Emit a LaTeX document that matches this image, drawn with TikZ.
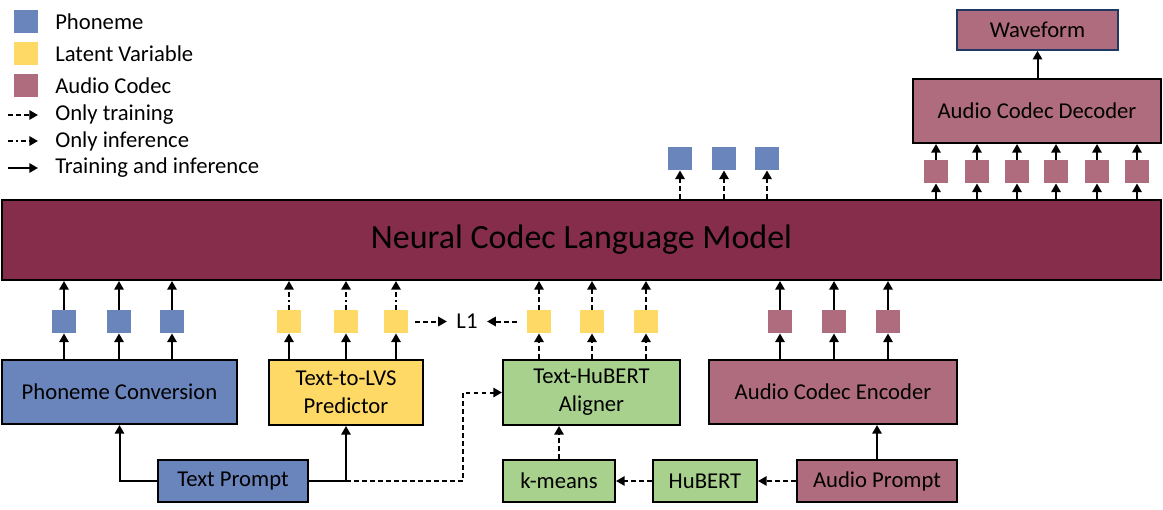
\documentclass[tikz,border=0pt]{standalone}
\usepackage{fontspec}
\setmainfont{Carlito}
\usetikzlibrary{arrows.meta}
\definecolor{cblue}{HTML}{6A84BC}
\definecolor{cyellow}{HTML}{FFD966}
\definecolor{cgreen}{HTML}{A9D18E}
\definecolor{cpink}{HTML}{B06C7F}
\definecolor{cmain}{HTML}{862D4B}
\definecolor{cnavy}{HTML}{203864}
\tikzset{
  box/.style={draw=black, line width=1.5pt, inner sep=0pt, align=center, font=\fontsize{17}{21}\selectfont},
  sq/.style={minimum width=18pt, minimum height=17.5pt, inner sep=0pt},
  arr/.style={line width=1.5pt, -{Triangle[length=6.5pt,width=7pt]}},
  train/.style={arr, dash pattern=on 3.5pt off 2.5pt},
  infer/.style={arr, dash pattern=on 3.5pt off 2.5pt on 1.2pt off 2.5pt},
  legtext/.style={anchor=west, inner sep=0pt, font=\fontsize{17}{20}\selectfont},
}
\begin{document}
\begin{tikzpicture}[x=0.75pt, y=-0.75pt]
\useasboundingbox (0,0) rectangle (1163,510);
% legend
\node[sq, fill=cblue] (lg1) at (26,21.5) {};
\node[sq, fill=cyellow] (lg2) at (26,53.5) {};
\node[sq, fill=cpink] (lg3) at (26,85.5) {};
\node[legtext] (lt1) at (55,21.5) {Phoneme};
\node[legtext] (lt2) at (55,53.5) {Latent Variable};
\node[legtext] (lt3) at (55,85.5) {Audio Codec};
\node[legtext] (lt4) at (55,115) {Only training};
\node[legtext] (lt5) at (55,141) {Only inference};
\node[legtext] (lt6) at (55,168) {Training and inference};
\coordinate (la1) at (8,115); \coordinate (lb1) at (38,115);
\coordinate (la2) at (8,141); \coordinate (lb2) at (38,141);
\coordinate (la3) at (8,168); \coordinate (lb3) at (38,168);
\draw[train] (la1) -- (lb1);
\draw[infer] (la2) -- (lb2);
\draw[arr] (la3) -- (lb3);

% main
\node[box, fill=cmain, minimum width=869.25pt, minimum height=60pt, font=\fontsize{25.5}{28}\selectfont] (main) at (581.5,240) {Neural Codec Language Model};
% top right
\node[box, draw=cnavy, line width=1.2pt, fill=cpink, minimum width=120.75pt, minimum height=30pt] (wave) at (1037.5,30) {Waveform};
\node[box, fill=cpink, minimum width=186pt, minimum height=48pt] (dec) at (1037,111) {Audio Codec Decoder};
\draw[arr] (dec.north -| wave.south) -- (wave.south);
\foreach \x [count=\i] in {936,977,1017,1056,1097,1137} {
  \node[sq, fill=cpink] (tp\i) at (\x,171.5) {};
  \draw[arr] (tp\i.south |- main.north) -- (tp\i.south);
  \draw[arr] (tp\i.north) -- (tp\i.north |- dec.south);
}
\foreach \x [count=\i] in {680,724,767} {
  \node[sq, fill=cblue] (tb\i) at (\x,158.5) {};
  \draw[train] (tb\i.south |- main.north) -- (tb\i.south);
}

% bottom boxes
\node[box, fill=cblue, minimum width=176.25pt, minimum height=48pt] (phc) at (119.5,392) {Phoneme Conversion};
\node[box, fill=cyellow, minimum width=115.5pt, minimum height=48.75pt] (lvs) at (346,392.5) {Text-to-LVS\\Predictor};
\node[box, fill=cgreen, minimum width=132.75pt, minimum height=48.75pt] (al) at (591.5,392.5) {Text-HuBERT\\Aligner};
\node[box, fill=cpink, minimum width=186pt, minimum height=48pt] (enc) at (833,392) {Audio Codec Encoder};
\node[box, fill=cblue, minimum width=112.5pt, minimum height=31.5pt] (tpr) at (233,481) {Text Prompt};
\node[box, fill=cgreen, minimum width=84pt, minimum height=31.5pt] (km) at (559,481) {k-means};
\node[box, fill=cgreen, minimum width=78pt, minimum height=31.5pt] (hb) at (705,481) {HuBERT};
\node[box, fill=cpink, minimum width=120pt, minimum height=31.5pt] (ap) at (877,481) {Audio Prompt};

% bottom squares
\foreach \x [count=\i] in {64,119,172} {
  \node[sq, fill=cblue] (bb\i) at (\x,321.5) {};
  \draw[arr] (bb\i.south |- phc.north) -- (bb\i.south);
  \draw[arr] (bb\i.north) -- (bb\i.north |- main.south);
}
\foreach \x [count=\i] in {289,346,396} {
  \node[sq, fill=cyellow] (yl\i) at (\x,321.5) {};
  \draw[arr] (yl\i.south |- lvs.north) -- (yl\i.south);
  \draw[infer] (yl\i.north) -- (yl\i.north |- main.south);
}
\foreach \x [count=\i] in {539,592,646} {
  \node[sq, fill=cyellow] (ya\i) at (\x,321.5) {};
  \draw[train] (ya\i.south |- al.north) -- (ya\i.south);
  \draw[train] (ya\i.north) -- (ya\i.north |- main.south);
}
\foreach \x [count=\i] in {780,834,888} {
  \node[sq, fill=cpink] (pe\i) at (\x,321.5) {};
  \draw[arr] (pe\i.south |- enc.north) -- (pe\i.south);
  \draw[arr] (pe\i.north) -- (pe\i.north |- main.south);
}

% L1
\node[inner sep=0pt, font=\fontsize{17}{20}\selectfont] (l1) at (467,321.5) {L1};
\draw[train] ([xshift=5.25pt]yl3.east) -- ([xshift=-7pt]l1.west);
\draw[train] ([xshift=-7.5pt]ya1.west) -- ([xshift=7pt]l1.east);

% prompt connections
\draw[arr] (tpr.west) -| (phc.south);
\draw[arr] (tpr.east) -| (lvs.south);
\coordinate (j) at (lvs.south |- tpr.east);
\coordinate (bend) at (463,481);
\draw[train] (j) -- (bend) |- (al.west);
\draw[train] (km.north) -- (km.north |- al.south);
\draw[train] (hb.west) -- (km.east);
\draw[train] (ap.west) -- (hb.east);
\draw[arr] (ap.north) -- (ap.north |- enc.south);
\end{tikzpicture}
\end{document}
